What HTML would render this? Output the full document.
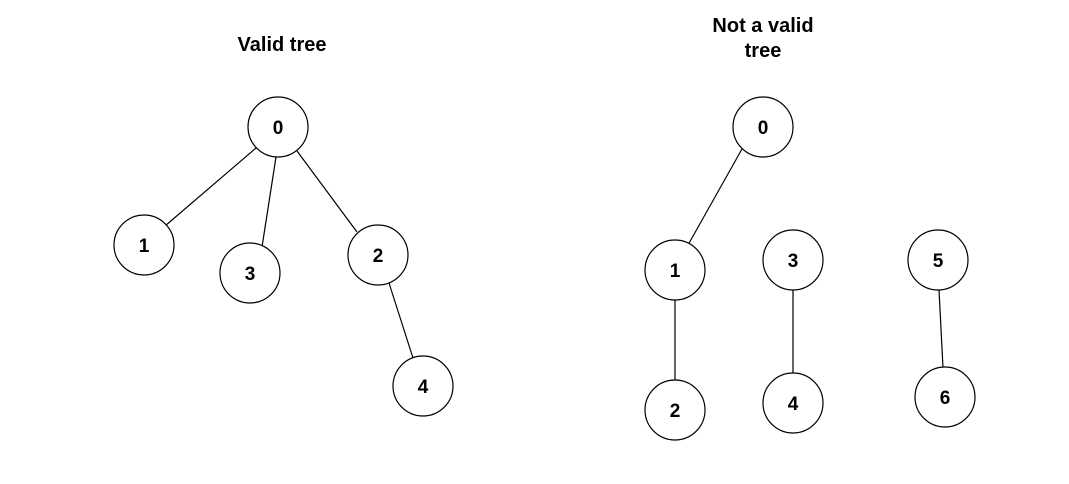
<!DOCTYPE html>
<html><head><meta charset="utf-8"><style>
html,body{margin:0;padding:0;background:#fff;}
svg{display:block;}
text{font-family:"Liberation Sans",Arial,sans-serif;font-weight:bold;font-size:19px;fill:#000;}
.t{font-size:20px;}
</style></head><body>
<svg width="1069" height="484" viewBox="0 0 1069 484" xmlns="http://www.w3.org/2000/svg">
<g stroke="#000" stroke-width="1.2" fill="none">
<line x1="256" y1="148" x2="165" y2="226"/>
<line x1="276" y1="157" x2="262" y2="247"/>
<line x1="297" y1="151" x2="357" y2="232"/>
<line x1="389" y1="283" x2="413" y2="358"/>
<line x1="742" y1="149" x2="688" y2="245"/>
<line x1="675" y1="300" x2="675" y2="381"/>
<line x1="793" y1="290" x2="793" y2="374"/>
<line x1="939" y1="290" x2="943" y2="368"/>
</g>
<g stroke="#000" stroke-width="1.2" fill="#fff">
<circle cx="278" cy="127" r="30"/>
<circle cx="144" cy="245" r="30"/>
<circle cx="250" cy="273" r="30"/>
<circle cx="378" cy="255" r="30"/>
<circle cx="423" cy="386" r="30"/>
<circle cx="763" cy="127" r="30"/>
<circle cx="675" cy="270" r="30"/>
<circle cx="793" cy="260" r="30"/>
<circle cx="938" cy="260" r="30"/>
<circle cx="675" cy="410" r="30"/>
<circle cx="793" cy="403" r="30"/>
<circle cx="945" cy="397" r="30"/>
</g>
<g text-anchor="middle">
<text class="t" x="282" y="51">Valid tree</text>
<text class="t" x="763" y="32">Not a valid</text>
<text class="t" x="763" y="57">tree</text>
<text x="278" y="134">0</text>
<text x="144" y="252">1</text>
<text x="250" y="280">3</text>
<text x="378" y="262">2</text>
<text x="423" y="393">4</text>
<text x="763" y="134">0</text>
<text x="675" y="277">1</text>
<text x="793" y="267">3</text>
<text x="938" y="267">5</text>
<text x="675" y="417">2</text>
<text x="793" y="410">4</text>
<text x="945" y="404">6</text>
</g>
</svg>
</body></html>
